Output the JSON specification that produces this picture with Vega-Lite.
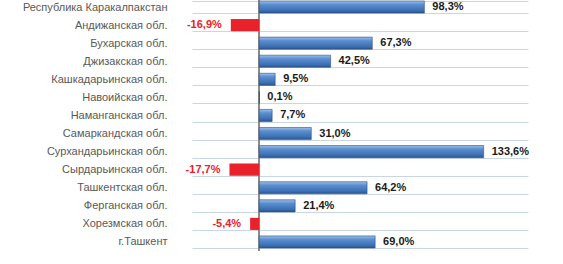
{
  "$schema": "https://vega.github.io/schema/vega-lite/v6.json",
  "width": 336,
  "height": 253,
  "autosize": {"type": "none"},
  "padding": {"left": 192, "top": -2, "right": 35, "bottom": 13},
  "background": "white",
  "config": {
    "view": {"stroke": null},
    "font": "Liberation Sans",
    "axisY": {"ticks": false, "domain": false, "grid": true, "tickBand": "extent", "gridColor": "#c9d6e6", "gridWidth": 1, "labelPadding": 25, "labelFontSize": 11, "labelColor": "#595959", "labelFont": "Liberation Sans", "minExtent": 187, "maxExtent": 187},
    "locale": {"number": {"decimal": ",", "thousands": " ", "grouping": [3], "currency": ["", ""], "minus": "-"}}
  },
  "data": {"values": [
    {"region": "Республика Каракалпакстан", "v": 0.983},
    {"region": "Андижанская обл.", "v": -0.169},
    {"region": "Бухарская обл.", "v": 0.673},
    {"region": "Джизакская обл.", "v": 0.425},
    {"region": "Кашкадарьинская обл.", "v": 0.095},
    {"region": "Навоийская обл.", "v": 0.001},
    {"region": "Наманганская обл.", "v": 0.077},
    {"region": "Самаркандская обл.", "v": 0.310},
    {"region": "Сурхандарьинская обл.", "v": 1.336},
    {"region": "Сырдарьинская обл.", "v": -0.177},
    {"region": "Ташкентская обл.", "v": 0.642},
    {"region": "Ферганская обл.", "v": 0.214},
    {"region": "Хорезмская обл.", "v": -0.054},
    {"region": "г.Ташкент", "v": 0.690}
  ]},
  "layer": [
    {
      "mark": {"type": "rule", "color": "#8a8a8a", "strokeWidth": 1},
      "encoding": {"x": {"datum": 0, "type": "quantitative", "scale": {"domain": [-0.4, 1.6]}, "axis": null}}
    },
    {
      "transform": [{"filter": "datum.v < 0"}],
      "mark": {"type": "bar", "color": "#e8212a"},
      "encoding": {
        "y": {"field": "region", "type": "nominal", "title": null,
          "scale": {"domain": ["Республика Каракалпакстан", "Андижанская обл.", "Бухарская обл.", "Джизакская обл.", "Кашкадарьинская обл.", "Навоийская обл.", "Наманганская обл.", "Самаркандская обл.", "Сурхандарьинская обл.", "Сырдарьинская обл.", "Ташкентская обл.", "Ферганская обл.", "Хорезмская обл.", "г.Ташкент"], "paddingInner": 0.33, "paddingOuter": 0.165}},
        "x": {"field": "v", "type": "quantitative", "axis": null}
      }
    },
    {
      "transform": [{"filter": "datum.v >= 0"}],
      "mark": {"type": "bar", "stroke": "#2b4f7e", "strokeWidth": 0.6,
        "color": {"gradient": "linear", "x1": 0, "y1": 0, "x2": 0, "y2": 1,
          "stops": [{"offset": 0, "color": "#9dc0ea"}, {"offset": 0.3, "color": "#5a8ed0"}, {"offset": 0.75, "color": "#3f72b5"}, {"offset": 1, "color": "#2a5590"}]}},
      "encoding": {
        "y": {"field": "region", "type": "nominal", "title": null},
        "x": {"field": "v", "type": "quantitative", "axis": null}
      }
    },
    {
      "transform": [{"filter": "datum.v >= 0"}],
      "mark": {"type": "text", "align": "left", "baseline": "middle", "dx": 8, "fontWeight": "bold", "fontSize": 11, "color": "#1a1a1a"},
      "encoding": {
        "y": {"field": "region", "type": "nominal", "title": null},
        "x": {"field": "v", "type": "quantitative", "axis": null},
        "text": {"field": "v", "type": "quantitative", "format": ".1%"}
      }
    },
    {
      "transform": [{"filter": "datum.v < 0"}],
      "mark": {"type": "text", "align": "right", "baseline": "middle", "dx": -9, "fontWeight": "bold", "fontSize": 11, "color": "#e8212a"},
      "encoding": {
        "y": {"field": "region", "type": "nominal", "title": null},
        "x": {"field": "v", "type": "quantitative", "axis": null},
        "text": {"field": "v", "type": "quantitative", "format": ".1%"}
      }
    }
  ]
}
